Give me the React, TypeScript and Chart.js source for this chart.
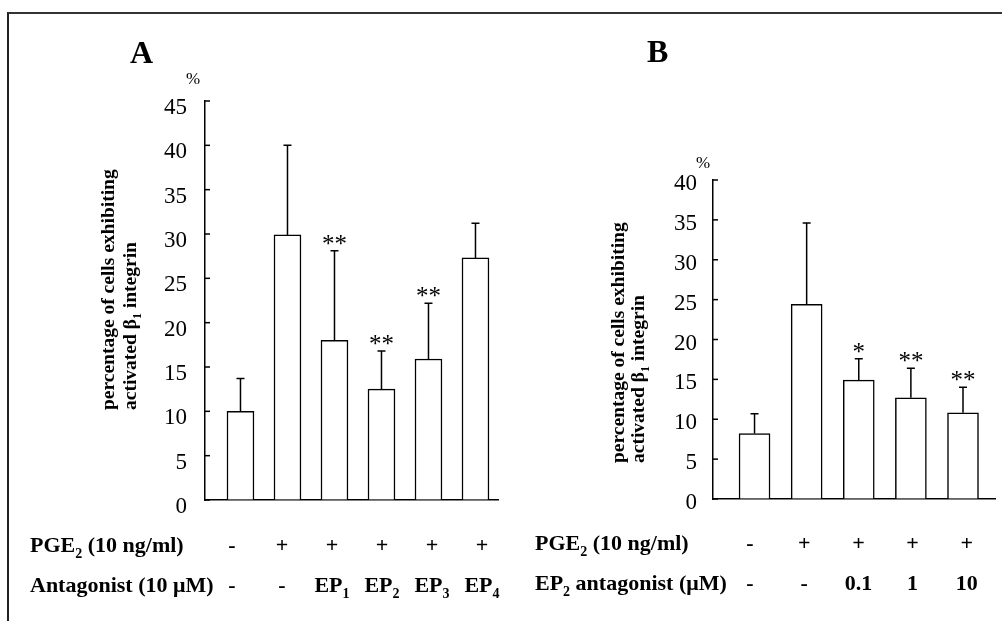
import React, { useEffect, useRef } from "react";
import { Chart, registerables } from "chart.js";

Chart.register(...registerables);

// ---------- Panel A data ----------
const aCategories = ["control", "PGE2", "PGE2+EP1", "PGE2+EP2", "PGE2+EP3", "PGE2+EP4"];
const aMeans = [10.0, 29.9, 18.0, 12.5, 15.9, 27.3];
const aErrors = [3.7, 10.1, 10.1, 4.3, 6.3, 3.9];
const aStars = ["", "", "**", "**", "**", ""];
const aPgeRow = ["-", "+", "+", "+", "+", "+"];
const aAntRow = ["-", "-", "EP{1}", "EP{2}", "EP{3}", "EP{4}"];
const aRowTitles = ["PGE{2} (10 ng/ml)", "Antagonist (10 \u03BCM)"];
const aYMax = 45;

// ---------- Panel B data ----------
const bCategories = ["control", "PGE2", "PGE2+0.1", "PGE2+1", "PGE2+10"];
const bMeans = [8.2, 24.4, 14.9, 12.7, 10.8];
const bErrors = [2.5, 10.2, 2.7, 3.7, 3.2];
const bStars = ["", "", "*", "**", "**"];
const bPgeRow = ["-", "+", "+", "+", "+"];
const bAntRow = ["-", "-", "0.1", "1", "10"];
const bRowTitles = ["PGE{2} (10 ng/ml)", "EP{2} antagonist (\u03BCM)"];
const bYMax = 40;

const yStep = 5;
const yTitleLines = ["percentage of cells exhibiting", "activated \u03B2{1} integrin"];

const FONT = '"Liberation Serif", "Times New Roman", serif';

function drawRich(
  ctx: CanvasRenderingContext2D,
  str: string,
  x: number,
  y: number,
  size: number,
  weight: string,
  align: "left" | "center"
) {
  const parts = str.split(/\{|\}/);
  const subSize = Math.round(size * 0.62);
  const f = (s: number) => `${weight} ${s}px ${FONT}`;
  const widths: number[] = [];
  let total = 0;
  parts.forEach((p, i) => {
    ctx.font = f(i % 2 ? subSize : size);
    const w = ctx.measureText(p).width;
    widths.push(w);
    total += w;
  });
  let cx = align === "center" ? x - total / 2 : x;
  ctx.textAlign = "left";
  ctx.textBaseline = "alphabetic";
  parts.forEach((p, i) => {
    ctx.font = f(i % 2 ? subSize : size);
    ctx.fillText(p, cx, y + (i % 2 ? size * 0.28 : 0));
    cx += widths[i];
  });
}

type PanelProps = {
  left: number;
  width: number;
  categories: string[];
  means: number[];
  errors: number[];
  stars: string[];
  pgeRow: string[];
  antRow: string[];
  rowTitles: string[];
  yMax: number;
  letter: string;
  geom: {
    padTop: number;
    padRight: number;
    yWidth: number;
    xHeight: number;
    xMin: number;
    xMax: number;
    barThickness: number;
    letterX: number;
    letterY: number;
    pctX: number;
    pctY: number;
    tickGap: number;
    tickDy: number;
    titleX1: number;
    titleX2: number;
    titleStartY: number;
    rowLabelX: number;
    rowY1: number;
    rowY2: number;
    colX0: number;
    colStep: number;
  };
};

function Panel(props: PanelProps) {
  const ref = useRef<HTMLCanvasElement>(null);
  useEffect(() => {
    const canvas = ref.current;
    if (!canvas) return;
    const p = props;
    const g = p.geom;

    const overlay = {
      id: "overlay",
      afterDatasetsDraw(chart: any) {
        const ctx: CanvasRenderingContext2D = chart.ctx;
        const yScale = chart.scales.y;
        const meta = chart.getDatasetMeta(0);
        ctx.save();
        ctx.strokeStyle = "#000";
        ctx.fillStyle = "#000";
        ctx.lineWidth = 1.5;
        meta.data.forEach((el: any, i: number) => {
          const top = yScale.getPixelForValue(p.means[i] + p.errors[i]);
          ctx.beginPath();
          ctx.moveTo(el.x, el.y);
          ctx.lineTo(el.x, top);
          ctx.moveTo(el.x - 4, top);
          ctx.lineTo(el.x + 4, top);
          ctx.stroke();
          if (p.stars[i]) {
            ctx.font = `normal 25px ${FONT}`;
            ctx.textAlign = "center";
            ctx.textBaseline = "alphabetic";
            ctx.fillText(p.stars[i], el.x, top + 1);
          }
        });
        ctx.restore();
      },
      afterDraw(chart: any) {
        const ctx: CanvasRenderingContext2D = chart.ctx;
        const yScale = chart.scales.y;
        const area = chart.chartArea;
        ctx.save();
        ctx.fillStyle = "#000";
        ctx.strokeStyle = "#000";
        ctx.lineWidth = 1.5;
        // inner tick marks and tick labels
        yScale.ticks.forEach((t: any) => {
          const y = yScale.getPixelForValue(t.value);
          ctx.beginPath();
          ctx.moveTo(area.left, y);
          ctx.lineTo(area.left + 5, y);
          ctx.stroke();
          ctx.font = `normal 23px ${FONT}`;
          ctx.textAlign = "right";
          ctx.textBaseline = "alphabetic";
          ctx.fillText(String(t.value), area.left - g.tickGap, y + g.tickDy);
        });
        // panel letter and %
        ctx.font = `bold 32px ${FONT}`;
        ctx.textAlign = "left";
        ctx.fillText(p.letter, g.letterX, g.letterY);
        ctx.font = `normal 17px ${FONT}`;
        ctx.fillText("%", g.pctX, g.pctY);
        // y title (rotated)
        ctx.save();
        ctx.translate(g.titleX1, g.titleStartY);
        ctx.rotate(-Math.PI / 2);
        drawRich(ctx, yTitleLines[0], 0, 0, 19.5, "bold", "left");
        ctx.restore();
        ctx.save();
        ctx.translate(g.titleX2, g.titleStartY);
        ctx.rotate(-Math.PI / 2);
        drawRich(ctx, yTitleLines[1], 0, 0, 19.5, "bold", "left");
        ctx.restore();
        // bottom rows
        drawRich(ctx, p.rowTitles[0], g.rowLabelX, g.rowY1, 22, "bold", "left");
        drawRich(ctx, p.rowTitles[1], g.rowLabelX, g.rowY2, 22, "bold", "left");
        p.pgeRow.forEach((s, i) => {
          drawRich(ctx, s, g.colX0 + g.colStep * i, g.rowY1, 22, "bold", "center");
        });
        p.antRow.forEach((s, i) => {
          drawRich(ctx, s, g.colX0 + g.colStep * i, g.rowY2, 22, "bold", "center");
        });
        ctx.restore();
      },
    };

    const chart = new Chart(canvas, {
      type: "bar",
      data: {
        labels: p.categories,
        datasets: [
          {
            data: p.means.map((v, i) => ({ x: i, y: v })) as any,
            backgroundColor: "#ffffff",
            borderColor: "#000000",
            borderWidth: 1.5,
            barThickness: g.barThickness,
          },
        ],
      },
      options: {
        animation: false,
        responsive: false,
        maintainAspectRatio: false,
        devicePixelRatio: 1,
        layout: {
          padding: { top: g.padTop, right: g.padRight, left: 0, bottom: 0 },
        },
        plugins: {
          legend: { display: false },
          tooltip: { enabled: false },
        },
        scales: {
          x: {
            type: "linear",
            min: g.xMin,
            max: g.xMax,
            offset: false,
            grid: { display: true, drawOnChartArea: false, drawTicks: false, offset: false },
            border: { display: true, color: "#000", width: 1.5 },
            ticks: { display: false },
            afterFit: (s: any) => {
              s.height = g.xHeight;
            },
          },
          y: {
            min: 0,
            max: p.yMax,
            ticks: { display: false, stepSize: yStep },
            grid: { display: true, drawOnChartArea: false, drawTicks: false },
            border: { display: true, color: "#000", width: 1.5 },
            afterFit: (s: any) => {
              s.width = g.yWidth;
            },
          },
        },
      },
      plugins: [overlay],
    } as any);
    return () => chart.destroy();
  }, []);
  return (
    <canvas
      ref={ref}
      width={props.width}
      height={621}
      style={{ position: "absolute", left: props.left, top: 0, width: props.width, height: 621 }}
    />
  );
}

export default function App() {
  return (
    <div
      style={{
        position: "absolute",
        left: 0,
        top: 0,
        width: 1002,
        height: 621,
        background: "#fff",
        overflow: "hidden",
      }}
    >
      <div
        style={{
          position: "absolute",
          left: 7,
          top: 12,
          width: 1010,
          height: 620,
          borderLeft: "2px solid #222",
          borderTop: "2px solid #333",
        }}
      />
      <Panel
        left={0}
        width={500}
        categories={aCategories}
        means={aMeans}
        errors={aErrors}
        stars={aStars}
        pgeRow={aPgeRow}
        antRow={aAntRow}
        rowTitles={aRowTitles}
        yMax={aYMax}
        letter="A"
        geom={{
          padTop: 101,
          padRight: 2,
          yWidth: 205,
          xHeight: 121,
          xMin: -0.755,
          xMax: 5.479,
          barThickness: 27,
          letterX: 130,
          letterY: 63,
          pctX: 186,
          pctY: 84,
          tickGap: 18,
          tickDy: 13,
          titleX1: 114,
          titleX2: 136,
          titleStartY: 410,
          rowLabelX: 30,
          rowY1: 552,
          rowY2: 592,
          colX0: 232,
          colStep: 50,
        }}
      />
      <Panel
        left={500}
        width={502}
        categories={bCategories}
        means={bMeans}
        errors={bErrors}
        stars={bStars}
        pgeRow={bPgeRow}
        antRow={bAntRow}
        rowTitles={bRowTitles}
        yMax={bYMax}
        letter="B"
        geom={{
          padTop: 180,
          padRight: 7,
          yWidth: 213,
          xHeight: 122,
          xMin: -0.797,
          xMax: 4.614,
          barThickness: 31,
          letterX: 147,
          letterY: 62,
          pctX: 196,
          pctY: 168,
          tickGap: 16,
          tickDy: 10,
          titleX1: 124,
          titleX2: 144,
          titleStartY: 463,
          rowLabelX: 35,
          rowY1: 550,
          rowY2: 590,
          colX0: 250,
          colStep: 54.2,
        }}
      />
    </div>
  );
}
